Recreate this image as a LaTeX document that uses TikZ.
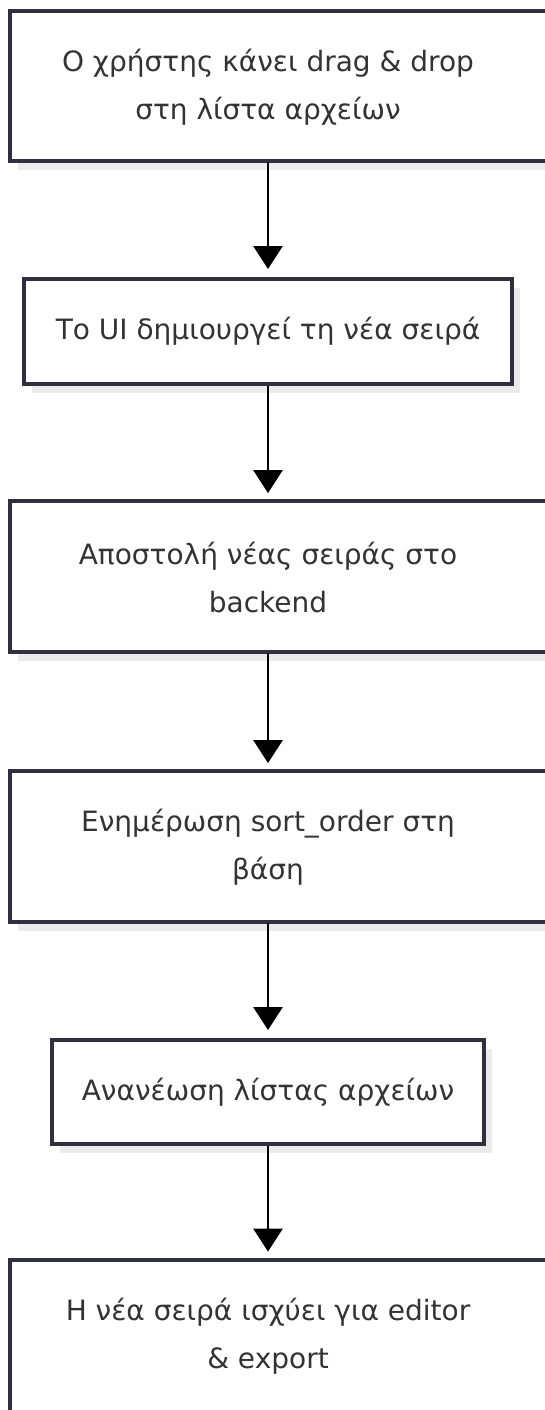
\documentclass[tikz,border=0pt]{standalone}
\usepackage{fontspec}
\setmainfont{DejaVu Sans}
\usepackage[]{tikz}
\usetikzlibrary{positioning}
\usetikzlibrary{arrows.meta}
\usetikzlibrary{shadows}
\definecolor{framecol}{HTML}{2F2F3F}
\definecolor{textcol}{HTML}{333333}
\tikzset{
    frame/.style={draw=framecol,line width=2pt,fill=white,
        drop shadow={shadow xshift=4pt,shadow yshift=-4.5pt,fill=black!8,opacity=1}},
    steptext/.style={rectangle,align=center,text=textcol,inner sep=0pt,
        font=\fontsize{14}{24}\selectfont},
    stepbox/.style={steptext,frame},
    flow/.style={-{Triangle[width=14.5pt,length=11.5pt]},line width=1.4pt,shorten >=4pt}
}

\begin{document}
\begin{tikzpicture}[x=0.5pt,y=-0.5pt]
            \useasboundingbox (0,0) rectangle (545,1410);
            \clip (0,0) rectangle (545,1410);
            \draw[frame] (10,11) rectangle (580,161);
            \draw[frame] (10,501) rectangle (580,652);
            \draw[frame] (10,771) rectangle (580,922);
            \draw[frame] (10,1260) rectangle (580,1440);
            \node[steptext,minimum height=75pt] (drag) at (268,87)
                {Ο χρήστης κάνει drag \& drop\\στη λίστα αρχείων};
            \node[stepbox,minimum width=244pt,minimum height=52.5pt] (ui) at (268,331.5)
                {Το UI δημιουργεί τη νέα σειρά};
            \node[steptext,minimum height=75.5pt] (send) at (268,577)
                {Αποστολή νέας σειράς στο\\backend};
            \node[steptext,minimum height=75.5pt] (update) at (268,847)
                {Ενημέρωση sort\_order στη\\βάση};
            \node[stepbox,minimum width=216pt,minimum height=52pt] (refresh) at (268,1092)
                {Ανανέωση λίστας αρχείων};
            \node[steptext,minimum height=76pt] (apply) at (268,1336)
                {Η νέα σειρά ισχύει για editor\\\& export};
            \draw[flow] (drag) -- (ui);
            \draw[flow] (ui) -- (send);
            \draw[flow] (send) -- (update);
            \draw[flow] (update) -- (refresh);
            \draw[flow] (refresh) -- (apply);
        \end{tikzpicture}
\end{document}
